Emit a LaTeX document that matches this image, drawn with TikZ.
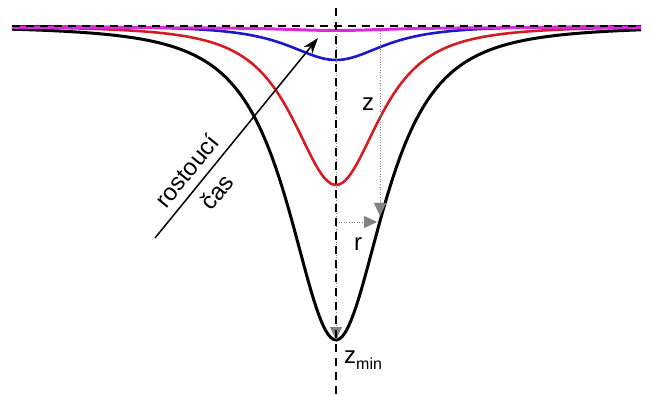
\documentclass[tikz,border=0pt]{standalone}
\usepackage{fontspec}
\setmainfont{Liberation Sans}
\usetikzlibrary{arrows.meta}
\definecolor{curvered}{RGB}{210,30,35}
\definecolor{curveblue}{RGB}{25,25,200}
\definecolor{curvemag}{RGB}{220,40,220}
\definecolor{guidegray}{RGB}{130,130,130}

\begin{document}
\begin{tikzpicture}[
  x=1pt, y=1pt,
  declare function={trough(\t,\a)=1/((1+(\t/\a)*(\t/\a))*sqrt(1+(\t/\a)*(\t/\a)));},
  every node/.style={font=\fontsize{24}{28}\selectfont},
  trough/.style={line width=2.6pt},
  axisline/.style={black, line width=2pt, dash pattern=on 8pt off 6pt},
  guide/.style={guidegray, line width=0.9pt, dash pattern=on 1pt off 1.6pt},
  guidearrow/.style={guide, -{Triangle[length=13pt,width=12pt]}},
  timearrow/.style={-{Stealth[length=16pt,width=11pt]}, line width=1.5pt},
]
\useasboundingbox (0,0) rectangle (653,394);

% Curves
\draw[trough, black, line width=3pt] plot[domain=12:641, samples=220] (\x, {368-314*trough(\x-336,72)});
\draw[trough, curvered] plot[domain=12:641, samples=220] (\x, {368-159*trough(\x-336,66)});
\draw[trough, curveblue] plot[domain=12:641, samples=160] (\x, {368-34*trough(\x-336,72)});
\draw[trough, curvemag, line width=3pt] plot[domain=12:641, samples=80] (\x, {366.5-3*trough(\x-336,80)});

% Axes
\coordinate (baseL) at (12,368);
\coordinate (baseR) at (641,368);
\coordinate (axtop) at (336,386);
\coordinate (axbot) at (336,0);
\draw[axisline] (baseL) -- (baseR);

% Guides
\coordinate (center0) at (336,368);
\coordinate (zmin) at (336,54);
\coordinate (ztop) at (380,366);
\coordinate (zend) at (380,178);
\coordinate (rstart) at (336,172);
\coordinate (rend) at (377,172);
\draw[guidearrow] (center0) -- (zmin);
\draw[guidearrow] (ztop) -- (zend);
\draw[guidearrow] (rstart) -- (rend);
\draw[axisline] (axtop) -- (axbot);

% Labels
\node[anchor=base, inner sep=0pt] (zlab) at (368,283) {z};
\node[anchor=base, inner sep=0pt] (rlab) at (358,144) {r};
\node[anchor=base west, inner sep=0pt] (zminlab) at (344,31)
  {z\raisebox{-6pt}{\fontsize{16}{18}\selectfont min}};

% Time arrow
\coordinate (tstart) at (155,156);
\coordinate (tend) at (318,356);
\draw[timearrow] (tstart) -- node[pos=0.28, sloped, above=5pt] (rostlab) {rostoucí}
  node[pos=0.29, sloped, below=6pt] (caslab) {čas} (tend);

\end{tikzpicture}
\end{document}
